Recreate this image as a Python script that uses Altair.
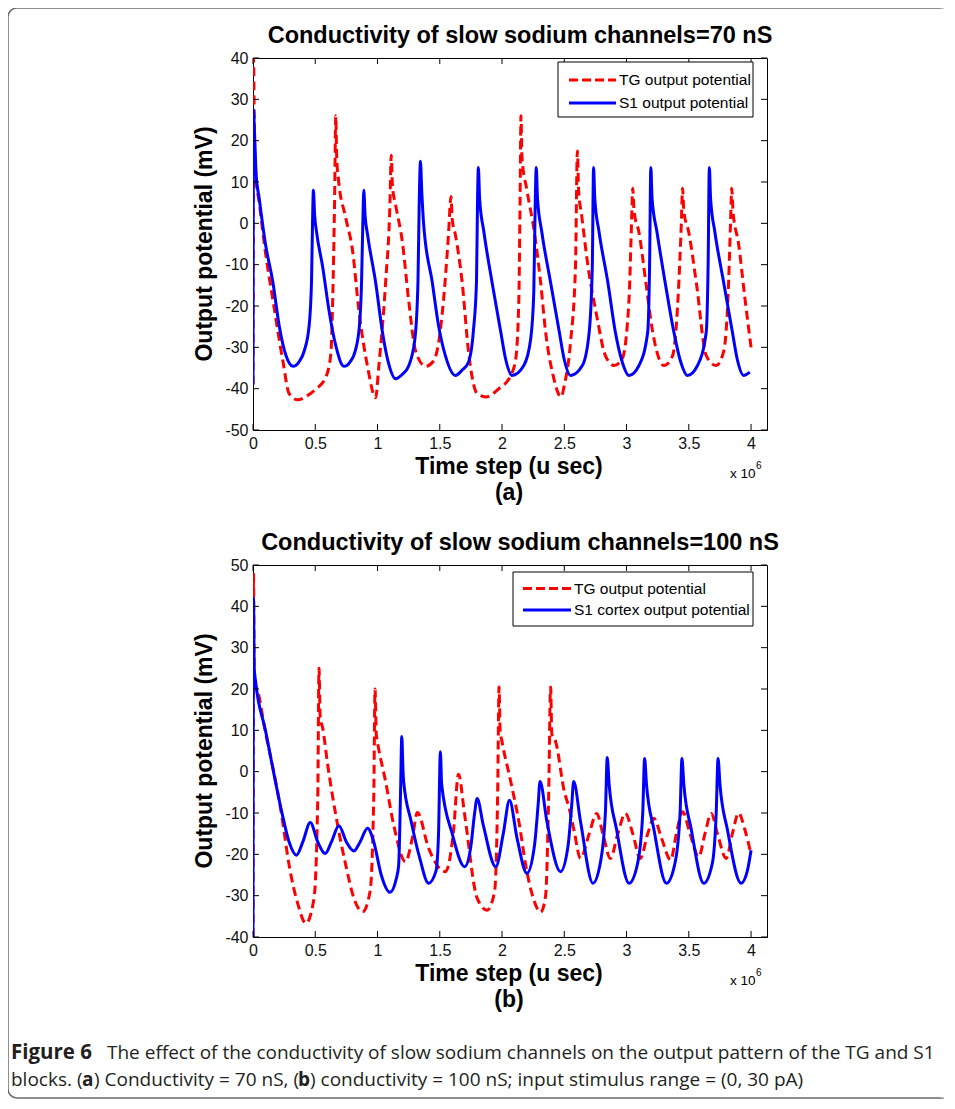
import altair as alt
import pandas as pd

# ---------------- data (time in units of 1e6 u sec, potential in mV) ----------------
x_ticks = [0, 0.5, 1, 1.5, 2, 2.5, 3, 3.5, 4]
ya_ticks = [-50, -40, -30, -20, -10, 0, 10, 20, 30, 40]
yb_ticks = [-40, -30, -20, -10, 0, 10, 20, 30, 40, 50]

a_tg_t = [0, 0.004, 0.012, 0.025, 0.05, 0.1, 0.16, 0.24, 0.29, 0.36, 0.43, 0.505, 0.585, 0.625, 0.64, 0.655,
          0.665, 0.672, 0.685, 0.745, 0.8, 0.85, 0.92, 0.985, 1.01, 1.065, 1.1, 1.11, 1.12, 1.145, 1.2, 1.25,
          1.305, 1.385, 1.45, 1.49, 1.53, 1.57, 1.59, 1.6, 1.625, 1.68, 1.73, 1.8, 1.87, 1.975, 2.07, 2.11,
          2.135, 2.145, 2.152, 2.16, 2.2, 2.26, 2.31, 2.35, 2.41, 2.475, 2.5, 2.55, 2.59, 2.605, 2.615, 2.64,
          2.69, 2.76, 2.83, 2.9, 2.965, 3.02, 3.04, 3.05, 3.06, 3.1, 3.155, 3.21, 3.3, 3.37, 3.42, 3.44, 3.45,
          3.46, 3.5, 3.56, 3.64, 3.72, 3.78, 3.82, 3.835, 3.845, 3.855, 3.9, 3.95, 4.0]
a_tg_v = [-39, 40, 20, 11, 5, -7, -18.6, -33.3, -41.2, -42.7, -41.8, -40.1, -37.2, -31.6, -18.6, 5,
          26, 16, 11, 1.3, -6.7, -21, -34.7, -42.2, -34.7, -14.3, 5, 16.5, 9, 4.5, -4.6, -18.6,
          -30.8, -34.6, -33.3, -29, -18.6, -2.7, 6.5, 1, -2.7, -14.3, -30.8, -41.2, -42, -40, -36.8, -32.8,
          -18.3, 5.8, 26, 16, 8, -2.2, -14.3, -26.3, -36.8, -42, -39.2, -28.8, -10.3, 17.5, 8, 1.8,
          -10.3, -22.3, -32, -34.4, -32.8, -18.3, 0, 8.5, 3, -2.2, -14.3, -26.3, -34.4, -32, -14.3, 0, 8.5,
          3, -2.2, -14.3, -32, -34.4, -31, -14, 0, 8.5, 3, -5, -18, -30]

a_s1_t = [0, 0.004, 0.012, 0.025, 0.05, 0.1, 0.16, 0.21, 0.265, 0.32, 0.37, 0.41, 0.45, 0.47, 0.478, 0.485,
          0.495, 0.51, 0.56, 0.61, 0.665, 0.73, 0.78, 0.82, 0.855, 0.872, 0.882, 0.89, 0.9, 0.92, 0.985, 1.04,
          1.09, 1.145, 1.2, 1.25, 1.3, 1.325, 1.335, 1.345, 1.355, 1.37, 1.44, 1.49, 1.545, 1.625, 1.68, 1.73,
          1.77, 1.795, 1.803, 1.81, 1.82, 1.855, 1.92, 1.99, 2.03, 2.08, 2.175, 2.23, 2.255, 2.265, 2.275, 2.285,
          2.32, 2.39, 2.46, 2.5, 2.55, 2.645, 2.7, 2.725, 2.735, 2.745, 2.78, 2.85, 2.91, 2.96, 3.02, 3.1, 3.17,
          3.185, 3.195, 3.205, 3.245, 3.31, 3.38, 3.43, 3.49, 3.57, 3.64, 3.655, 3.665, 3.675, 3.71, 3.78, 3.85,
          3.89, 3.94, 3.99]
a_s1_v = [-39, 27.5, 22, 12, 6, -5, -14.3, -24.7, -32, -34.6, -33.5, -31, -25, -14, 0, 8,
          2, -2, -10.6, -21, -29.6, -34.6, -33.5, -31, -24.7, -14, 0, 8, 2, -2.7, -14.3, -26.4,
          -34, -37.6, -36.5, -34.5, -28, -14, 5, 15, 8, 0, -14.3, -24.7, -32, -36.8, -35.5, -33.6,
          -26, -14, 5, 13.5, 6, -2.2, -14.3, -26.3, -33, -36.8, -34.4, -28, -16.7, 2, 13.5, 6,
          -2.2, -14.3, -26.3, -33, -36.8, -34.4, -26.3, -10.3, 13.5, 6, -2.2, -14.3, -26.3, -33, -36.8, -34.4, -26.3,
          -10.3, 13.5, 6, -2.2, -14.3, -26.3, -33, -36.8, -34.4, -26.3, -10.3, 13.5, 6, -2.2, -14.3, -26.3,
          -33, -36.8, -36]

b_tg_t = [0, 0.004, 0.01, 0.02, 0.1, 0.23, 0.29, 0.36, 0.425, 0.49, 0.52, 0.53, 0.54, 0.56, 0.6, 0.665,
          0.745, 0.81, 0.88, 0.94, 0.97, 0.98, 0.99, 0.995, 1.065, 1.13, 1.225, 1.28, 1.32, 1.41, 1.545, 1.61,
          1.65, 1.7, 1.8, 1.88, 1.94, 1.965, 1.976, 1.985, 2.0, 2.07, 2.14, 2.19, 2.25, 2.31, 2.35, 2.375,
          2.39, 2.4, 2.43, 2.5, 2.54, 2.58, 2.63, 2.7, 2.76, 2.81, 2.87, 2.93, 2.99, 3.05, 3.11, 3.17,
          3.22, 3.28, 3.355, 3.4, 3.45, 3.51, 3.58, 3.63, 3.68, 3.73, 3.8, 3.85, 3.9, 3.95, 4.0]
b_tg_v = [-40, 48, 20, 20.5, 9.5, -10.5, -22.6, -32, -36.7, -30.6, -6.5, 25, 13, 10.5, 1.6, -10.5,
          -22.6, -30.6, -33.9, -29, -5.6, 20, 9, 8, -2.4, -12.9, -21.8, -16, -9.9, -18.5, -24.2, -14.5,
          -0.6, -10.5, -30.6, -33.5, -29, -5, 20.5, 10, 7.3, -2.4, -12.9, -22.6, -30.5, -34, -30, -5,
          20.5, 9, 7.3, -4.8, -8.9, -14.5, -21, -15, -10.1, -15, -21, -15, -10.1, -15, -21, -15,
          -11.3, -16, -21.4, -15, -9.7, -15, -20.6, -15, -10.1, -15, -21, -15, -10, -14, -20]

b_s1_t = [0, 0.004, 0.01, 0.02, 0.1, 0.23, 0.29, 0.35, 0.4, 0.46, 0.52, 0.58, 0.63, 0.69, 0.75, 0.81,
          0.86, 0.92, 0.97, 1.03, 1.1, 1.15, 1.17, 1.185, 1.195, 1.205, 1.21, 1.27, 1.34, 1.41, 1.47, 1.49,
          1.505, 1.515, 1.6, 1.7, 1.75, 1.78, 1.8, 1.85, 1.95, 2.01, 2.06, 2.12, 2.2, 2.26, 2.29, 2.305,
          2.36, 2.47, 2.53, 2.56, 2.575, 2.63, 2.73, 2.79, 2.83, 2.845, 2.86, 2.92, 3.02, 3.09, 3.13, 3.145,
          3.16, 3.22, 3.32, 3.39, 3.43, 3.445, 3.46, 3.52, 3.62, 3.69, 3.72, 3.735, 3.75, 3.81, 3.92, 3.97, 4.0]
b_s1_v = [-40, 42, 25, 22, 10, -9.6, -17, -20.2, -17, -12.3, -17, -19.8, -17, -13.1, -17, -19.2,
          -17, -13.7, -17, -25, -29.2, -26, -22.6, -5, 8.5, 0, -2.4, -12, -21, -27, -24, -15,
          4.8, -3, -15, -23, -18, -10, -6.5, -13, -23, -15, -6.9, -16, -24.6, -18, -8, -2.4,
          -12, -24.2, -18, -8, -2.4, -12, -27, -22, -10, 3.4, -3, -14, -27, -22, -10, 3.2,
          -3, -14, -27, -22, -10, 3.2, -3, -14, -27, -22, -10, 3.2, -3, -14, -27, -24, -19]

titles = ["Conductivity of slow sodium channels=70 nS", "Conductivity of slow sodium channels=100 nS"]
legend_a = ["TG output potential", "S1 output potential"]
legend_b = ["TG output potential", "S1 cortex output potential"]
panel_tags = ["(a)", "(b)"]
x_title = "Time step (u sec)"
y_title = "Output potential (mV)"
caption_bold = "Figure 6"
caption_1 = "The effect of the conductivity of slow sodium channels on the output pattern of the TG and S1"
caption_2_parts = ["blocks. (", "a", ") Conductivity = 70 nS, (", "b",
                   ") conductivity = 100 nS; input stimulus range = (0, 30 pA)"]

# ---------------- styling ----------------
W, H = 514, 372
XMAX = 4.128
AX = "Liberation Sans"
CAP = "Open Sans"
RED = "#ff0000"
BLUE = "#0000ff"


def one(s=""):
    return pd.DataFrame({"s": [s]})


def txt(s, x, y, size, bold=False, angle=0, align="center", baseline="middle", font=AX, color="black"):
    return alt.Chart(one(s)).mark_text(
        align=align, baseline=baseline, fontSize=size, fontWeight="bold" if bold else "normal",
        angle=angle, font=font, color=color
    ).encode(x=alt.value(x), y=alt.value(y), text="s:N")


def panel(tg_t, tg_v, s1_t, s1_v, ydom, yticks, title, legend, tag, leg_box, extra=None):
    xs = alt.Scale(domain=[0, XMAX], nice=False, zero=False)
    ys = alt.Scale(domain=ydom, nice=False, zero=False)
    xax = alt.Axis(values=x_ticks, labelExpr="'' + datum.value", title=None, grid=False,
                   ticks=False, tickSize=0, labelPadding=5, labelFontSize=16, labelFont=AX,
                   labelColor="#111", domainColor="black", labelFlush=False)
    yax = alt.Axis(values=yticks, labelExpr="'' + datum.value", title=None, grid=False,
                   ticks=False, tickSize=0, labelPadding=5, labelFontSize=16, labelFont=AX,
                   labelColor="#111", domainColor="black", labelFlush=False)
    X = alt.X("t:Q", scale=xs, axis=xax)
    Y = alt.Y("v:Q", scale=ys, axis=yax)

    tg = alt.Chart(pd.DataFrame({"t": tg_t, "v": tg_v})).mark_line(
        color=RED, strokeWidth=3, strokeDash=[9, 5], interpolate="monotone", clip=True
    ).encode(x=X, y=Y)
    s1 = alt.Chart(pd.DataFrame({"t": s1_t, "v": s1_v})).mark_line(
        color=BLUE, strokeWidth=3, interpolate="monotone", clip=True
    ).encode(x=X, y=Y)

    # inward ticks on all four sides
    ydf = pd.DataFrame({"v": yticks})
    xdf = pd.DataFrame({"t": x_ticks})
    tk = dict(color="black", strokeWidth=1)
    t_left = alt.Chart(ydf).mark_rule(**tk).encode(y=Y, x=alt.value(0), x2=alt.value(6))
    t_right = alt.Chart(ydf).mark_rule(**tk).encode(y=Y, x=alt.value(W - 6), x2=alt.value(W))
    t_bot = alt.Chart(xdf).mark_rule(**tk).encode(x=X, y=alt.value(H - 6), y2=alt.value(H))
    t_top = alt.Chart(xdf).mark_rule(**tk).encode(x=X, y=alt.value(0), y2=alt.value(6))

    lx0, lx1, ly0, ly1, sx0, sx1, r1, r2, tx = leg_box
    box = alt.Chart(one()).mark_rect(fill="white", stroke="black", strokeWidth=1).encode(
        x=alt.value(lx0), x2=alt.value(lx1), y=alt.value(ly0), y2=alt.value(ly1))
    l_red = alt.Chart(one()).mark_rule(color=RED, strokeWidth=3, strokeDash=[9, 4]).encode(
        x=alt.value(sx0), x2=alt.value(sx1), y=alt.value(r1))
    l_blue = alt.Chart(one()).mark_rule(color=BLUE, strokeWidth=3).encode(
        x=alt.value(sx0), x2=alt.value(sx1), y=alt.value(r2))
    lt1 = txt(legend[0], tx, r1, 15.5, align="left")
    lt2 = txt(legend[1], tx, r2, 15.5, align="left")

    ttl = txt(title, 267, -22, 23.5, bold=True)
    ytl = txt(y_title, -48, H / 2, 23, bold=True, angle=270)
    xtl = txt(x_title, 256, H + 37, 23, bold=True)
    tag_t = txt(tag, 256, H + 63, 23, bold=True)
    x10 = txt("x 10", 477, H + 44, 13.5, align="left")
    sup = txt("6", 503, H + 36, 10, align="left")

    layers = [tg, s1, t_left, t_right, t_bot, t_top, box, l_red, l_blue, lt1, lt2,
              ttl, ytl, xtl, tag_t, x10, sup]
    if extra:
        layers = extra + layers
    return alt.layer(*layers).properties(width=W, height=H)


# outer frame (drawn in panel a's coordinates: plot origin at page (254, 59))
frame = alt.Chart(one()).mark_rect(
    fillOpacity=0, stroke="#6b6b6b", strokeWidth=1.5, cornerRadiusTopLeft=9, cornerRadiusBottomLeft=9
).encode(x=alt.value(-245), x2=alt.value(690), y=alt.value(-50), y2=alt.value(1040))
frame_cut = alt.Chart(one()).mark_rule(color="white", strokeWidth=4).encode(
    x=alt.value(690), y=alt.value(-49.5), y2=alt.value(1039.5))

# caption (drawn in panel b's coordinates: plot origin at page (254, 566))
cap_col = "#231f20"
cap_size = 19
cap = [
    txt(caption_bold, -242, 488, 20.5, bold=True, align="left", font=CAP, color=cap_col),
    txt(caption_1, -146, 488, cap_size, align="left", font=CAP, color=cap_col),
    txt(caption_2_parts[0], -242, 515, cap_size, align="left", font=CAP, color=cap_col),
    txt(caption_2_parts[1], -171, 515, cap_size, bold=True, align="left", font=CAP, color=cap_col),
    txt(caption_2_parts[2], -159, 515, cap_size, align="left", font=CAP, color=cap_col),
    txt(caption_2_parts[3], 45, 515, cap_size, bold=True, align="left", font=CAP, color=cap_col),
    txt(caption_2_parts[4], 57, 515, cap_size, align="left", font=CAP, color=cap_col),
]

pa = panel(a_tg_t, a_tg_v, a_s1_t, a_s1_v, [-50, 40], ya_ticks, titles[0], legend_a, panel_tags[0],
           (305, 500, 4, 59, 316, 363, 22, 45, 366), extra=[frame, frame_cut])
pb = panel(b_tg_t, b_tg_v, b_s1_t, b_s1_v, [-40, 50], yb_ticks, titles[1], legend_b, panel_tags[1],
           (260, 500, 7, 61, 270, 318, 23.5, 45, 321))
pb = alt.layer(pb, *cap)

chart = alt.vconcat(pa, pb, spacing=135, bounds="flush").properties(
    padding={"left": -2, "top": -2, "right": 0, "bottom": 0}, background="white"
).configure_view(stroke="black", strokeWidth=1)

chart.save("out.html", embed_options={"renderer": "svg", "actions": False})
